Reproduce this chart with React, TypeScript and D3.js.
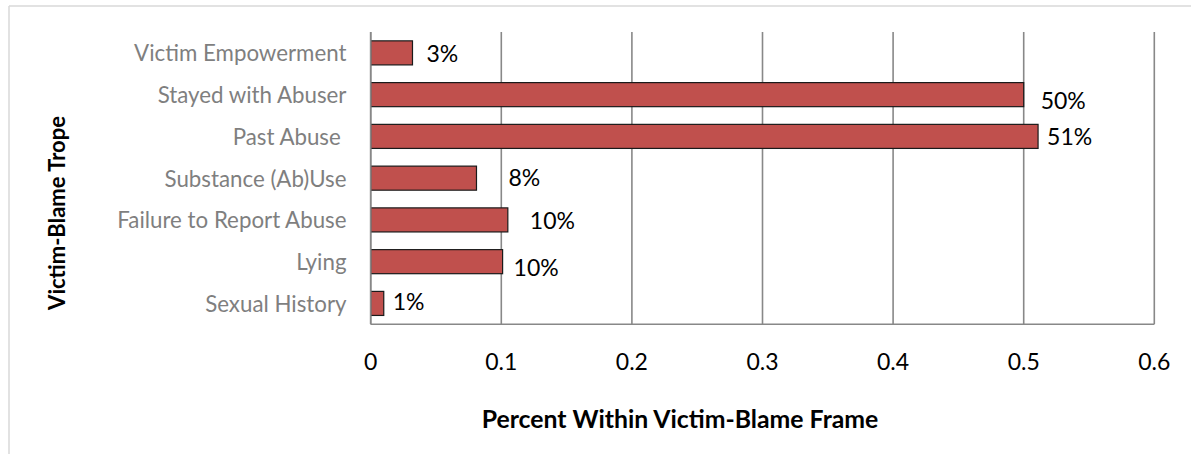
import React from "react";
import * as d3 from "d3";

const categories = [
  "Victim Empowerment",
  "Stayed with Abuser",
  "Past Abuse ",
  "Substance (Ab)Use",
  "Failure to Report Abuse",
  "Lying",
  "Sexual History",
];
const values = [0.032, 0.5, 0.511, 0.081, 0.105, 0.101, 0.01];
const valueLabels = ["3%", "50%", "51%", "8%", "10%", "10%", "1%"];
const xTicks = [0, 0.1, 0.2, 0.3, 0.4, 0.5, 0.6];
const xTitle = "Percent Within Victim-Blame Frame";
const yTitle = "Victim-Blame Trope";

// label nudges (layout only)
const labelDx = [14, 17, 9, 32, 22, 11, 9];
const labelDy = [0, 5, 0, -1, 0, 5, -2];

const W = 1191;
const H = 454;
const M = { left: 370.7, right: 1154.3, top: 32, bottom: 324.3 };
const FONT = "Lato, 'Open Sans', sans-serif";

export default function App() {
  const x = d3.scaleLinear().domain([0, 0.6]).range([M.left, M.right]);
  const y = d3
    .scaleBand<string>()
    .domain(categories)
    .range([M.top, M.bottom])
    .paddingInner(0.424)
    .paddingOuter(0.212);

  return (
    <svg
      width={W}
      height={H}
      style={{ position: "absolute", left: 0, top: 0, background: "#fff" }}
      fontFamily={FONT}
    >
      <rect x={0} y={0} width={W} height={H} fill="#fff" />
      {/* outer chart border */}
      <line x1={9} x2={W + 5} y1={6} y2={6} stroke="#d9d9d9" strokeWidth={1.5} />
      <line x1={9} x2={9} y1={6} y2={H + 5} stroke="#d9d9d9" strokeWidth={1.5} />

      {/* gridlines */}
      {xTicks.map((t) => (
        <line
          key={"g" + t}
          x1={x(t)}
          x2={x(t)}
          y1={M.top}
          y2={M.bottom}
          stroke="#888888"
          strokeWidth={1.6}
        />
      ))}
      <line x1={M.left} x2={M.right} y1={M.bottom} y2={M.bottom} stroke="#888888" strokeWidth={1.6} />

      {/* bars */}
      {categories.map((c, i) => (
        <rect
          key={"b" + c}
          x={x(0)}
          y={y(c)!}
          width={x(values[i]) - x(0)}
          height={y.bandwidth()}
          fill="#c0504d"
          stroke="#1a1a1a"
          strokeWidth={1.2}
        />
      ))}
      {/* axis line over bars */}
      <line x1={M.left} x2={M.left} y1={M.top} y2={M.bottom} stroke="#888888" strokeWidth={1.6} />

      {/* data labels */}
      {categories.map((c, i) => (
        <text
          key={"l" + c}
          x={x(values[i]) + labelDx[i]}
          y={y(c)! + y.bandwidth() / 2 + labelDy[i]}
          dominantBaseline="central"
          fontSize={23}
          fill="#000"
        >
          {valueLabels[i]}
        </text>
      ))}

      {/* category labels */}
      {categories.map((c) => (
        <text
          key={"c" + c}
          x={346.5}
          y={y(c)! + y.bandwidth() / 2}
          dominantBaseline="central"
          textAnchor="end"
          fontSize={22.3}
          fill="#7f7f7f"
          style={{ whiteSpace: "pre" }}
        >
          {c}
        </text>
      ))}

      {/* x tick labels */}
      {xTicks.map((t) => (
        <text
          key={"t" + t}
          x={x(t)}
          y={361}
          dominantBaseline="central"
          textAnchor="middle"
          fontSize={23}
          fill="#000"
        >
          {d3.format("")(t)}
        </text>
      ))}

      {/* axis titles */}
      <text
        x={680}
        y={428}
        textAnchor="middle"
        fontSize={24.8}
        fontWeight="bold"
        fill="#000"
      >
        {xTitle}
      </text>
      <text
        transform={`translate(65, 213) rotate(-90)`}
        textAnchor="middle"
        fontSize={22}
        fontWeight="bold"
        fill="#000"
      >
        {yTitle}
      </text>
    </svg>
  );
}
